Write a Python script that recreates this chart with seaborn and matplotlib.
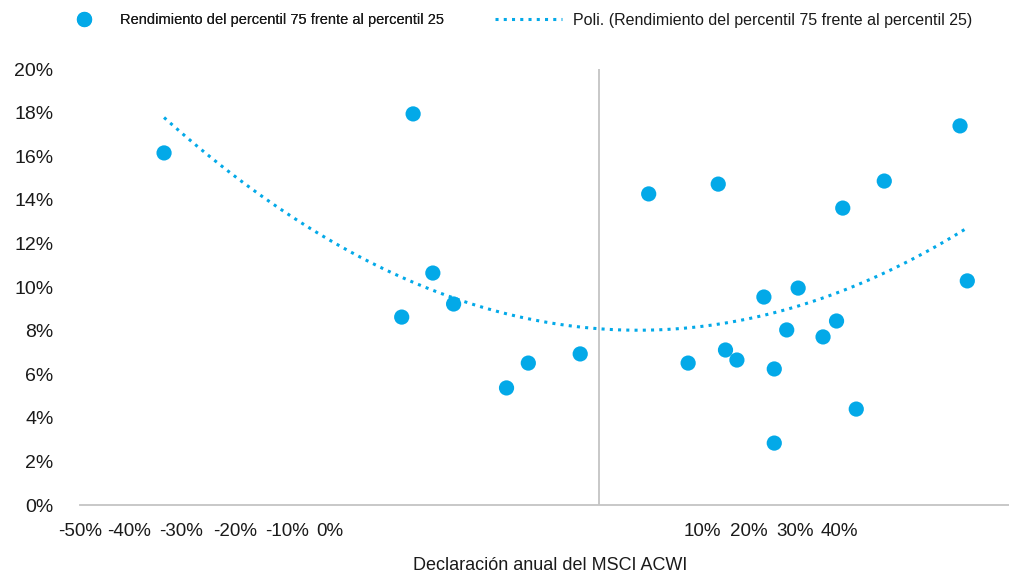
import numpy as np
import pandas as pd
import matplotlib
matplotlib.use("Agg")
import matplotlib.pyplot as plt
from matplotlib.lines import Line2D
import seaborn as sns

# ---------------- DATEN ----------------
# Rendimiento anual del MSCI ACWI (%)
acwi_return = [-41.9, -19.0, -17.9, -16.0, -14.0, -8.9, -6.8, -1.8,
               4.8, 8.6, 11.5, 12.2, 13.3, 15.9, 16.9, 16.9, 18.1, 19.2,
               21.6, 22.9, 23.5, 24.8, 27.5, 34.8, 35.5]
# Rendimiento del percentil 75 frente al percentil 25 (%)
spread_75_25 = [16.15, 8.62, 17.94, 10.64, 9.22, 5.37, 6.51, 6.93,
                14.27, 6.51, 14.72, 7.11, 6.65, 9.54, 6.24, 2.84, 8.03, 9.95,
                7.71, 8.44, 13.62, 4.40, 14.86, 17.39, 10.28]

y_ticks = [0, 2, 4, 6, 8, 10, 12, 14, 16, 18, 20]
x_tick_labels = ["-50%", "-40%", "-30%", "-20%", "-10%", "0%",
                 "10%", "20%", "30%", "40%"]
# wo die Beschriftungen im Original stehen (Datenkoordinaten)
x_tick_pos = [-50.0, -45.3, -40.3, -35.1, -30.0, -25.9,
              10.0, 14.4, 18.9, 23.2]

serie_name = "Rendimiento del percentil 75 frente al percentil 25"
trend_name = "Poli. (Rendimiento del percentil 75 frente al percentil 25)"
x_title = "Declaración anual del MSCI ACWI"

# ---------------- STIL ----------------
BLUE = "#03A9E8"
GREY = "#C4C4C4"
TXT = "#1a1a1a"
W, H = 1009, 573

sns.set_theme(style="white")
plt.rcParams["font.family"] = ["Liberation Sans", "DejaVu Sans"]

df = pd.DataFrame({"x": acwi_return, "y": spread_75_25})

fig = plt.figure(figsize=(W / 100, H / 100), dpi=100)
ax = fig.add_axes([80 / W, 1 - 505 / H, 934 / W, 436 / H])

ax.axvline(0, color=GREY, lw=1.3, zorder=1)

dots = (0, (1, 1.7))
sns.regplot(data=df, x="x", y="y", order=2, ci=None, scatter=False, ax=ax,
            line_kws=dict(color=BLUE, lw=2.2, ls=dots, zorder=2))
sns.scatterplot(data=df, x="x", y="y", s=120, color=BLUE, edgecolor="none",
                ax=ax, zorder=3, legend=False)

ax.set_yticks(y_ticks)
ax.set_yticklabels([f"{t}%" for t in y_ticks], fontsize=14, color=TXT)
ax.set_xticks(x_tick_pos)
ax.set_xticklabels(x_tick_labels, fontsize=13.5, color=TXT)
ax.set_xlim(-50, 40)
ax.set_ylim(0, 20)
ax.tick_params(axis="y", length=0, pad=19)
ax.tick_params(axis="x", length=0, pad=13)

for s in ["left", "right", "top"]:
    ax.spines[s].set_visible(False)
ax.spines["bottom"].set_color(GREY)
ax.spines["bottom"].set_linewidth(1.3)

ax.set_xlabel(x_title, fontsize=13, color=TXT)
ax.xaxis.set_label_coords((550 - 80) / 934, (505 - 566) / 436)
ax.xaxis.label.set_va("center")
ax.set_ylabel("")

# Legende (zwei Einträge, getrennt platziert)
h1 = Line2D([], [], ls="none", marker="o", ms=11, color=BLUE, mec="none")
leg1 = fig.legend(handles=[h1], labels=[serie_name], loc="center left",
                  bbox_to_anchor=(75 / W, 1 - 20 / H), frameon=False,
                  borderpad=0, borderaxespad=0, handlelength=1.2, handletextpad=1.9,
                  prop={"size": 10.5})
h2 = Line2D([], [], color=BLUE, lw=2.2, ls=dots)
leg2 = fig.legend(handles=[h2], labels=[trend_name], loc="center left",
                  bbox_to_anchor=(495 / W, 1 - 20 / H), frameon=False,
                  borderpad=0, borderaxespad=0, handlelength=4.2, handletextpad=0.69,
                  prop={"size": 11.5})
for t in leg1.get_texts() + leg2.get_texts():
    t.set_color(TXT)
fig.add_artist(leg1)

fig.savefig("out.png", dpi=100)
